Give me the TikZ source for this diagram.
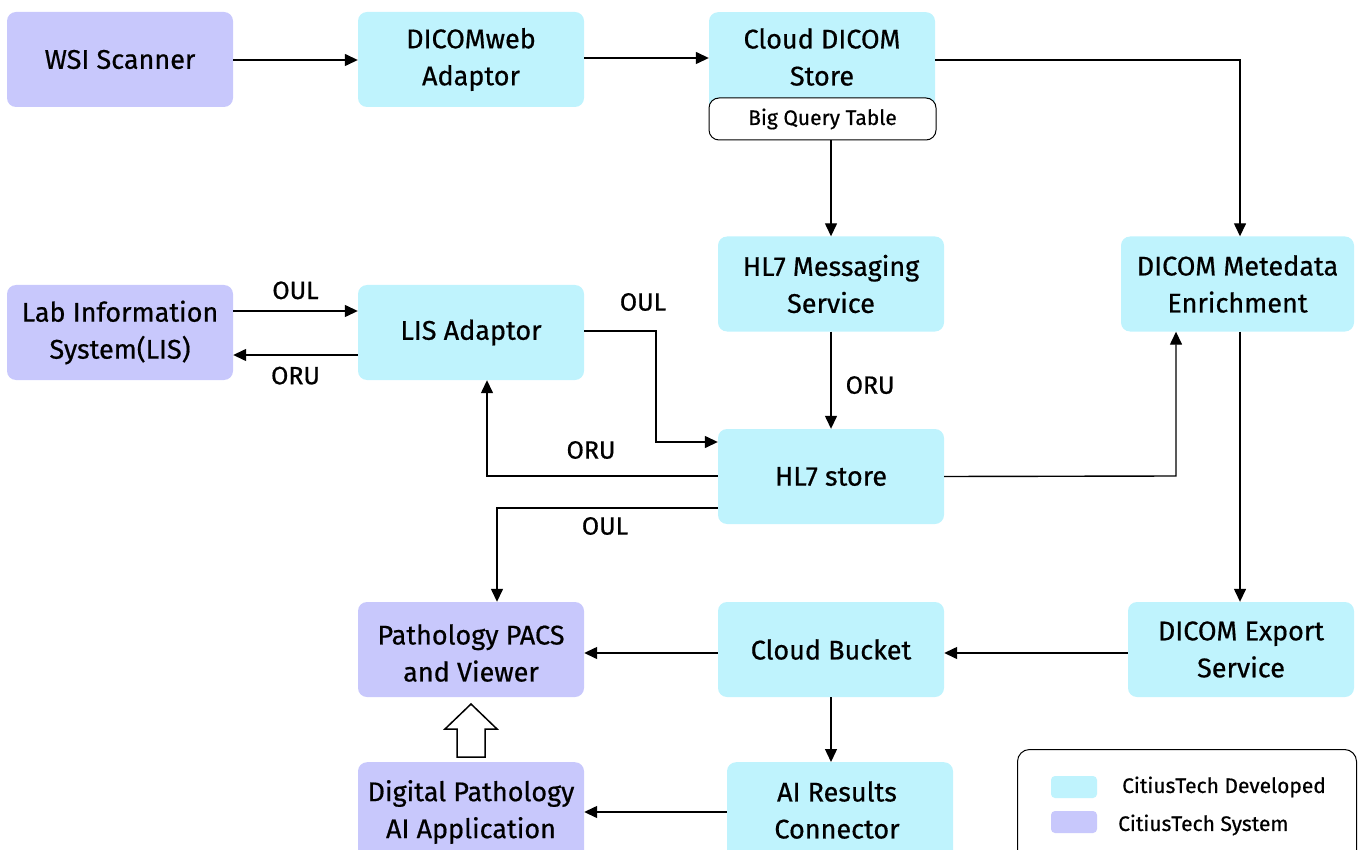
\documentclass[tikz,border=0pt]{standalone}
\usepackage{fontspec}
\setmainfont{Fira Sans}[UprightFeatures={FakeBold=0.6}]
\usetikzlibrary{arrows.meta,shapes.arrows}
\definecolor{sys}{HTML}{C8C8FC}
\definecolor{dev}{HTML}{BFF3FD}
\begin{document}
\begin{tikzpicture}[x=1pt,y=-1pt,
  box/.style={rounded corners=9pt,align=center,font=\fontsize{27}{37}\selectfont,inner sep=0pt},
  btext/.style={font=\fontsize{27}{37}\selectfont,align=center,inner sep=0pt},
  arr/.style={line width=1.4pt,-{Triangle[length=13pt,width=12pt]}},
  lbl/.style={font=\fontsize{25}{28}\selectfont,inner sep=0pt},
]
\useasboundingbox (0,0) rectangle (1362,850);
\clip (0,0) rectangle (1362,850);
% boxes
\node[box,fill=sys,minimum width=226pt,minimum height=95pt] (wsi) at (120,59.5) {WSI Scanner};
\node[box,fill=dev,minimum width=226pt,minimum height=95pt] (dweb) at (471,59.5) {DICOMweb\\Adaptor};
\node[box,fill=dev,minimum width=226pt,minimum height=100pt,anchor=north] (cds) at (822,12) {};
\node[btext] (cdstext) at (822,57) {Cloud DICOM\\Store};
\node[box,fill=white,draw=black,line width=1pt,rounded corners=10pt,minimum width=227pt,minimum height=42pt,font=\fontsize{21}{24}\selectfont] (bq) at (822.5,119) {Big Query Table};
\node[box,fill=dev,minimum width=226pt,minimum height=95pt] (hl7m) at (831,284) {HL7 Messaging\\Service};
\node[box,fill=dev,minimum width=233pt,minimum height=95pt] (enr) at (1237.5,284) {DICOM Metedata\\Enrichment};
\node[box,fill=sys,minimum width=226pt,minimum height=95pt] (lis) at (120,332.5) {Lab Information\\System(LIS)};
\node[box,fill=dev,minimum width=226pt,minimum height=95pt] (lisa) at (471,332.5) {LIS Adaptor};
\node[box,fill=dev,minimum width=226pt,minimum height=95pt] (hl7s) at (831,476.5) {HL7 store};
\node[box,fill=sys,minimum width=226pt,minimum height=95pt] (pacs) at (471,649.5) {};
\node[btext] (pacstext) at (471,653) {Pathology PACS\\and Viewer};
\node[box,fill=dev,minimum width=226pt,minimum height=95pt] (bucket) at (831,649.5) {Cloud Bucket};
\node[box,fill=dev,minimum width=226pt,minimum height=95pt] (exp) at (1241,649.5) {DICOM Export\\Service};
\node[box,fill=sys,minimum width=226pt,minimum height=110pt,anchor=north] (aiapp) at (471,762) {};
\node[btext] (aiapptext) at (471,812) {Digital Pathology\\AI Application};
\node[box,fill=dev,minimum width=226pt,minimum height=110pt,anchor=north] (aires) at (840,762) {};
\node[btext] (airestext) at (837,810) {AI Results\\Connector};
% legend
\node[draw=black,line width=1pt,rounded corners=12pt,fill=white,minimum width=339pt,minimum height=120pt,anchor=north west,inner sep=0pt] (legend) at (1017,749) {};
\node[fill=dev,rounded corners=4pt,minimum width=46pt,minimum height=22pt,inner sep=0pt] (sw1) at (1074,787) {};
\node[fill=sys,rounded corners=4pt,minimum width=46pt,minimum height=22pt,inner sep=0pt] (sw2) at (1074,822) {};
\node[anchor=west,inner sep=0pt,font=\fontsize{21}{24}\selectfont] (l1) at (1122,787) {CitiusTech Developed};
\node[anchor=west,inner sep=0pt,font=\fontsize{21}{24}\selectfont] (l2) at (1118,825) {CitiusTech System};
% coordinates
\coordinate (c1) at (1240,60);
\coordinate (c2) at (656,331);
\coordinate (c3) at (656,442);
\coordinate (c4) at (487,476);
\coordinate (c5) at (497,508);
\coordinate (c6) at (1176,476);
% arrows
\draw[arr] (wsi.east |- 0,60) -- (dweb.west |- 0,60);
\draw[arr] (dweb.east |- 0,58) -- (cds.west |- 0,58);
\draw[arr] (cds.east |- c1) -- (c1) -- (enr.north -| c1);
\draw[arr] (bq.south -| 831,0) -- (hl7m.north);
\draw[arr] (hl7m.south) -- node[lbl,right=14pt,pos=0.55]{ORU} (hl7s.north);
\draw[arr] (lis.east |- 0,311) -- node[lbl,above=11pt]{OUL} (lisa.west |- 0,311);
\draw[arr] (lisa.west |- 0,355) -- node[lbl,below=11pt]{ORU} (lis.east |- 0,355);
\draw[arr] (lisa.east |- c2) -- (c2) -- (c3) -- (hl7s.west |- c3);
\node[lbl] at (643,302) {OUL};
\draw[arr] (hl7s.west |- c4) -- (c4) -- (lisa.south -| c4);
\node[lbl] at (591,450) {ORU};
\draw[arr] (hl7s.west |- c5) -- (c5) -- (pacs.north -| c5);
\node[lbl] at (605,526) {OUL};
\draw[arr] (hl7s.east) -- (c6) -- (enr.south -| c6);
\draw[arr] (enr.south -| 1240,0) -- (exp.north -| 1240,0);
\draw[arr] (exp.west |- 0,653) -- (bucket.east |- 0,653);
\draw[arr] (bucket.west |- 0,653) -- (pacs.east |- 0,653);
\draw[arr] (bucket.south) -- (aires.north -| bucket.south);
\draw[arr] (aires.west |- 0,812) -- (aiapp.east |- 0,812);
% hollow arrow
\draw[line width=1.5pt,fill=white] (457,757) -- (457,729) -- (445,729) -- (471,704) -- (497,729) -- (485,729) -- (485,757) -- cycle;
\end{tikzpicture}
\end{document}
